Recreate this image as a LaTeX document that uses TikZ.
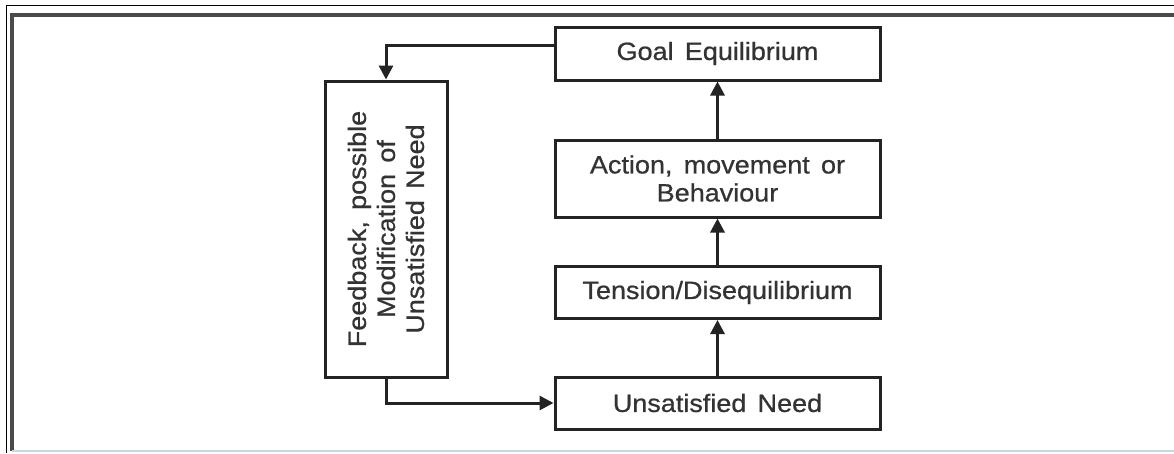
\documentclass[tikz,border=0pt]{standalone}
\usepackage{fontspec}
\setmainfont{Liberation Sans}[FakeStretch=1.08, FakeBold=0.7, WordSpace=1.5]
\usetikzlibrary{arrows.meta}
\definecolor{ink}{HTML}{232323}
\definecolor{txt}{HTML}{333333}
\definecolor{framegray}{HTML}{4A4A4A}
\definecolor{edgeblue}{HTML}{C9D6DC}
\tikzset{
  flowbox/.style={draw=ink, line width=3pt, fill=white, inner sep=0pt,
    text=txt, align=center, font=\fontsize{25}{28}\selectfont},
  flowarrow/.style={draw=ink, line width=3pt,
    -{Triangle[length=14pt,width=14pt]}},
  flowtext/.style={text=txt, align=center, font=\fontsize{25}{29}\selectfont}
}
\begin{document}
\begin{tikzpicture}[x=1pt,y=-1pt]
  % page area
  \fill[white] (0,0) rectangle (1174,453);
  \useasboundingbox (0,0) rectangle (1174,453);

  % double frame round the figure
  \draw[line width=1pt, black] (6,453) -- (6,5) -- (1174,5);
  \draw[line width=4pt, framegray] (12,451) -- (12,15) -- (1174,15);
  \draw[line width=1.5pt, edgeblue] (12,451) -- (1174,451);

  % main column of stages
  \node[flowbox, minimum width=325pt, minimum height=53pt] (goal) at (717.5,53.5) {Goal Equilibrium};
  \node[flowbox, minimum width=325pt, minimum height=77pt] (action) at (717.5,178.5) {Action, movement or\\Behaviour};
  \node[flowbox, minimum width=325pt, minimum height=52pt] (tension) at (717.5,292.5) {Tension/Disequilibrium};
  \node[flowbox, minimum width=325pt, minimum height=52pt] (need) at (717.5,403) {Unsatisfied Need};

  % feedback box with its label turned upward
  \node[flowbox, minimum width=122pt, minimum height=296pt] (fb) at (386,229) {};
  \node[flowtext, rotate=90] (fbtext) at (fb.center) {Feedback, possible\\Modification of\\Unsatisfied Need};

  % connectors
  \draw[flowarrow] (need.north) -- (tension.south);
  \draw[flowarrow] (tension.north) -- (action.south);
  \draw[flowarrow] (action.north) -- (goal.south);
  \draw[flowarrow] ([yshift=8pt]goal.west) -| (fb.north);
  \draw[flowarrow] (fb.south) |- (need.west);
\end{tikzpicture}
\end{document}
